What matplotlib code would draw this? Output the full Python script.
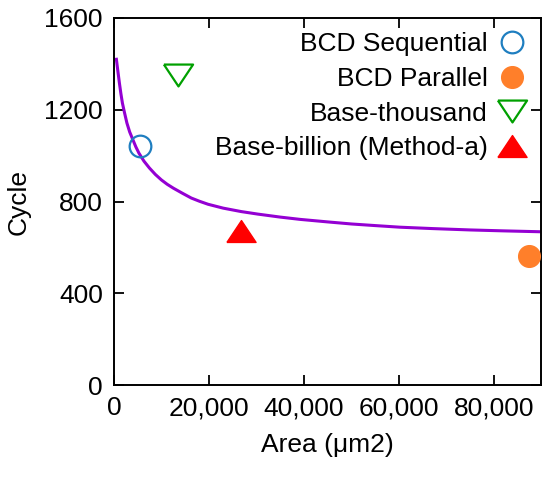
import matplotlib.pyplot as plt
from matplotlib.ticker import FuncFormatter

plt.rcParams['font.family'] = ['Liberation Sans', 'DejaVu Sans']

# measured points (area um2, cycle)
seq_x, seq_y = [5500], [1044]
par_x, par_y = [87400], [563]
thou_x, thou_y = [13500], [1352]
bil_x, bil_y = [26700], [673]

# trend curve
curve_x = [500, 850, 1137, 1450, 1768, 2200, 2716, 3300, 3979, 4600, 5240, 6300,
           7453, 8700, 9979, 11200, 12505, 14400, 16280, 18000, 19790, 23000,
           26800, 30300, 35000, 39200, 45000, 50000, 55000, 60200, 67000, 75000,
           82000, 90000]
curve_y = [1420, 1362, 1316, 1270, 1229, 1188, 1142, 1103, 1069, 1038, 1011, 976,
           946, 918, 894, 875, 858, 836, 815, 801, 788, 771,
           756, 745, 732, 722, 711, 702, 695, 688, 682, 676,
           672, 668]

fig = plt.figure(figsize=(5.5, 4.82), dpi=100)
ax = fig.add_axes([0.2073, 0.2012, 0.7772, 0.7615])

tri_up = [(-1, -0.75), (1, -0.75), (0, 0.75), (-1, -0.75)]
tri_dn = [(-1, 0.75), (1, 0.75), (0, -0.75), (-1, 0.75)]

ax.plot(curve_x, curve_y, color='#9400d3', lw=2.2, zorder=2)
ax.plot(seq_x, seq_y, ls='none', marker='o', ms=15.6, mfc='none', mec='#1f7ec0',
        mew=1.6, label='BCD Sequential', zorder=3)
ax.plot(par_x, par_y, ls='none', marker='o', ms=15.6, color='#ff7f2a',
        label='BCD Parallel', zorder=3)
ax.plot(thou_x, thou_y, ls='none', marker=tri_dn, ms=21, mfc='none', mec='#00a000',
        mew=1.6, label='Base-thousand', zorder=3)
ax.plot(bil_x, bil_y, ls='none', marker=tri_up, ms=21, color='#ff0000',
        label='Base-billion (Method-a)', zorder=3)

ax.set_xlim(0, 90000)
ax.set_ylim(0, 1600)
ax.set_xticks([0, 20000, 40000, 60000, 80000])
ax.set_yticks([0, 400, 800, 1200, 1600])
ax.xaxis.set_major_formatter(FuncFormatter(lambda v, p: f'{int(v):,}'))
ax.tick_params(direction='in', length=7, width=1.3, labelsize=19,
               top=True, right=True, pad=8)
for s in ax.spines.values():
    s.set_linewidth(1.4)

ax.set_xlabel('Area (μm2)', fontsize=19, labelpad=9)
ax.set_ylabel('Cycle', fontsize=19, labelpad=10)

ax.legend(loc='upper right', frameon=False, markerfirst=False, fontsize=19,
          handletextpad=0.4, labelspacing=0.4, borderaxespad=0.2,
          handlelength=1.1, borderpad=0.35)

fig.savefig('out.png', dpi=100)
